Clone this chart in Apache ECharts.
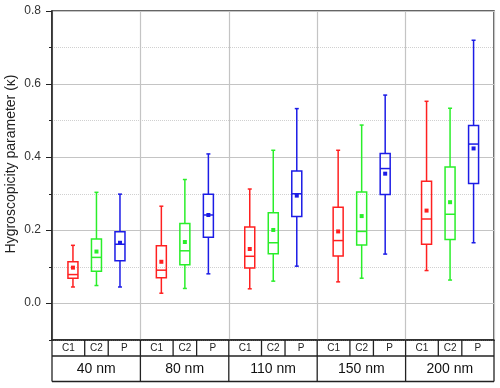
<!DOCTYPE html>
<html lang="en">
<head>
    <meta charset="UTF-8">
    <title>Hygroscopicity</title>
    <script src="https://cdn.jsdelivr.net/npm/echarts@6/dist/echarts.min.js"></script>
    <style>
        html, body { margin: 0; padding: 0; background: #fff; }
        #container { width: 500px; height: 388px; }
    </style>
</head>
<body>
<div id="container"></div>
<script>
    // size bins and particle types
    const sizes = ['40 nm', '80 nm', '110 nm', '150 nm', '200 nm'];
    const types = ['C1', 'C2', 'P'];
    const yTicks = [0.0, 0.2, 0.4, 0.6, 0.8];

    // [min, Q1, median, Q3, max] per size bin
    const c1Stats = [
        [0.045, 0.069, 0.079, 0.114, 0.159],
        [0.028, 0.070, 0.091, 0.158, 0.266],
        [0.040, 0.097, 0.129, 0.209, 0.313],
        [0.059, 0.130, 0.172, 0.263, 0.419],
        [0.090, 0.162, 0.231, 0.334, 0.553]
    ];
    const c2Stats = [
        [0.049, 0.088, 0.126, 0.176, 0.304],
        [0.041, 0.106, 0.144, 0.219, 0.339],
        [0.061, 0.136, 0.166, 0.248, 0.419],
        [0.069, 0.160, 0.197, 0.305, 0.488],
        [0.064, 0.175, 0.244, 0.373, 0.534]
    ];
    const pStats = [
        [0.045, 0.117, 0.162, 0.196, 0.299],
        [0.081, 0.181, 0.242, 0.299, 0.409],
        [0.102, 0.238, 0.300, 0.362, 0.533],
        [0.135, 0.298, 0.369, 0.410, 0.570],
        [0.166, 0.328, 0.436, 0.487, 0.720]
    ];
    // mean values
    const c1Mean = [0.098, 0.114, 0.149, 0.197, 0.254];
    const c2Mean = [0.142, 0.168, 0.201, 0.239, 0.277];
    const pMean = [0.166, 0.242, 0.295, 0.355, 0.424];

    const colors = ['#ff2020', '#2aee2a', '#1c1ce6'];
    const slot = [0.237, 0.503, 0.769];   // box position inside a size bin
    const FONT = '"Liberation Sans", Arial, sans-serif';

    function makeData(stats, means, k) {
        return stats.map((s, g) => [g + slot[k]].concat(s, [means[g]]));
    }

    function renderBox(params, api) {
        const x = api.value(0);
        const pt = i => api.coord([x, api.value(i)]);
        const lo = pt(1), q1 = pt(2), md = pt(3), q3 = pt(4), hi = pt(5), mn = pt(6);
        const cx = lo[0], hw = 5, cap = 2;
        const st = { stroke: api.visual('color'), lineWidth: 1.5, fill: null };
        const line = (x1, y1, x2, y2) => ({ type: 'line', shape: { x1, y1, x2, y2 }, style: st });
        return {
            type: 'group',
            children: [
                line(cx, hi[1], cx, q3[1]),
                line(cx, q1[1], cx, lo[1]),
                line(cx - cap, hi[1], cx + cap, hi[1]),
                line(cx - cap, lo[1], cx + cap, lo[1]),
                { type: 'rect', shape: { x: cx - hw, y: q3[1], width: hw * 2, height: q1[1] - q3[1] }, style: st },
                line(cx - hw, md[1], cx + hw, md[1]),
                { type: 'rect', shape: { x: cx - 2, y: mn[1] - 2, width: 4, height: 4 }, style: { fill: api.visual('color') } }
            ]
        };
    }

    const seriesData = [makeData(c1Stats, c1Mean, 0), makeData(c2Stats, c2Mean, 1), makeData(pStats, pMean, 2)];

    const dom = document.getElementById('container');
    const myChart = echarts.init(dom, null, { renderer: 'canvas' });

    const option = {
        animation: false,
        grid: [
            { left: 52, right: 6, top: 11, bottom: 48, outerBoundsMode: 'none', show: true, borderColor: '#333', borderWidth: 1.5 },
            { left: 52, right: 6, top: 11, height: 292, outerBoundsMode: 'none' }
        ],
        xAxis: [
            {
                type: 'value', gridIndex: 0, min: 0, max: 5, interval: 1,
                axisLabel: { show: false }, axisTick: { show: false },
                axisLine: { onZero: false, lineStyle: { color: '#222', width: 1.5 } },
                splitLine: { lineStyle: { color: '#c4c4c4', width: 1.2 } }
            },
            { type: 'value', gridIndex: 1, min: 0, max: 1, show: false }
        ],
        yAxis: [
            {
                type: 'value', gridIndex: 0, min: -0.1, max: 0.8, interval: 0.2,
                axisLabel: { show: false },
                axisTick: { length: 3, lineStyle: { color: '#222' } },
                axisLine: { show: true, onZero: false, lineStyle: { color: '#222', width: 1.5 } },
                splitLine: { lineStyle: { color: '#d0d0d0', type: 'dotted', width: 1 } }
            },
            {
                type: 'value', gridIndex: 1, min: yTicks[0], max: yTicks[yTicks.length - 1], interval: 0.2,
                name: 'Hygroscopicity parameter (\u03ba)', nameLocation: 'middle', nameGap: 34, nameMoveOverlap: false,
                nameTextStyle: { fontFamily: FONT, fontSize: 14, color: '#222', padding: [0, 14, 0, 0] },
                axisLine: { show: false, onZero: false },
                axisTick: { show: true, length: 6, lineStyle: { color: '#222', width: 1 } },
                axisLabel: { fontFamily: FONT, fontSize: 12, color: '#333', margin: 11, formatter: v => v.toFixed(1) },
                splitLine: { lineStyle: { color: '#c4c4c4', width: 1.2 } }
            }
        ],
        series: seriesData.map((d, k) => ({
            name: types[k],
            type: 'custom',
            xAxisIndex: 0,
            yAxisIndex: 0,
            itemStyle: { color: colors[k] },
            encode: { x: 0, y: [1, 2, 3, 4, 5, 6] },
            renderItem: renderBox,
            data: d
        }))
    };
    myChart.setOption(option);

    // table of category labels under the plot
    const px = v => myChart.convertToPixel({ xAxisIndex: 0 }, v);
    const y0 = 340, y1 = 356, y2 = 381.5;
    const bounds = [0, (slot[0] + slot[1]) / 2, (slot[1] + slot[2]) / 2, 1];
    const lineSt = { stroke: '#222', lineWidth: 1.3 };
    const graphic = [];
    const hline = y => graphic.push({ type: 'line', shape: { x1: px(0), y1: y, x2: px(5), y2: y }, style: lineSt });
    const vline = (x, ya, yb) => graphic.push({ type: 'line', shape: { x1: x, y1: ya, x2: x, y2: yb }, style: lineSt });
    hline(y1);
    hline(y2);
    for (let g = 0; g <= sizes.length; g++) vline(px(g), y0, y2);
    sizes.forEach((s, g) => {
        vline(px(g + bounds[1]), y0, y1);
        vline(px(g + bounds[2]), y0, y1);
        types.forEach((t, k) => {
            graphic.push({
                type: 'text',
                style: {
                    text: t, x: px(g + (bounds[k] + bounds[k + 1]) / 2), y: (y0 + y1) / 2 + 0.5,
                    align: 'center', verticalAlign: 'middle', font: '10px ' + FONT, fill: '#222'
                }
            });
        });
        graphic.push({
            type: 'text',
            style: {
                text: s, x: px(g + 0.5), y: (y1 + y2) / 2 + 0.5,
                align: 'center', verticalAlign: 'middle', font: '14px ' + FONT, fill: '#111'
            }
        });
    });
    myChart.setOption({ graphic: graphic });
    window.addEventListener('resize', myChart.resize);
</script>
</body>
</html>
